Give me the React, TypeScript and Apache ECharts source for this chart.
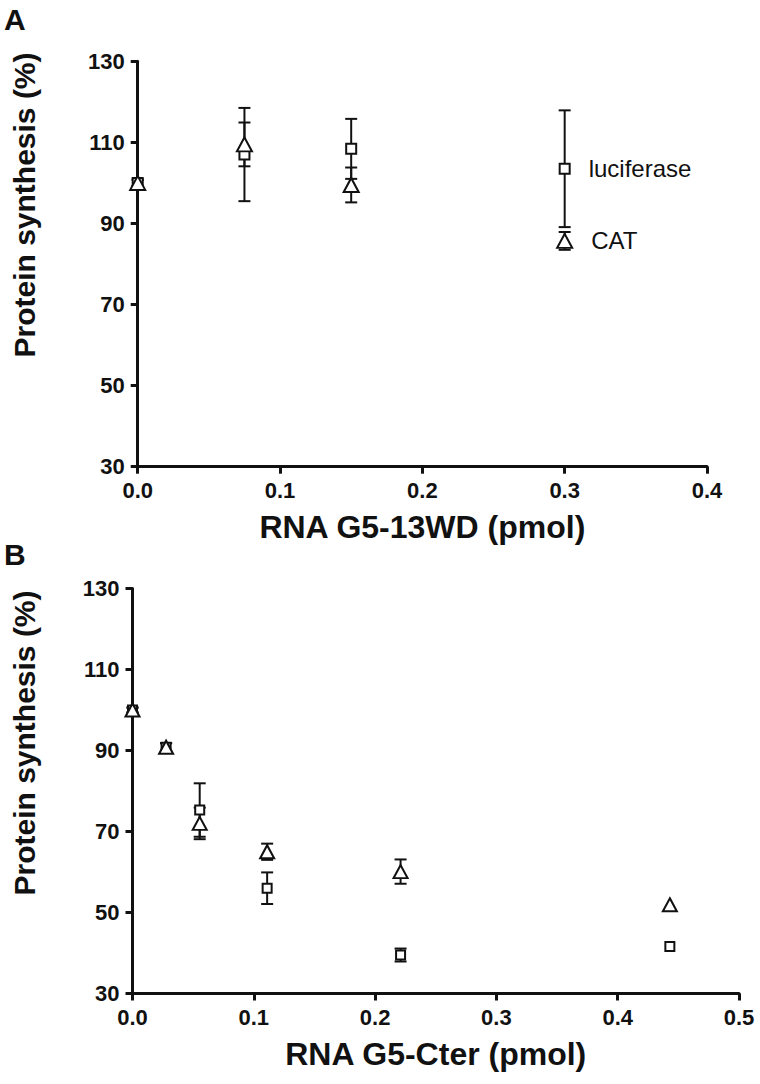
import React, { useEffect, useRef } from "react";
import * as echarts from "echarts";

// Panel A: RNA G5-13WD
const dosesA = [0, 0.075, 0.15, 0.3];
const lucA = [100, 107, 108.4, 103.5];
const lucAErr = [0.8, 11.5, 7.4, 14.4];
const catA = [100, 109.5, 99.5, 85.7];
const catAErr = [0.8, 5.4, 4.3, 2.2];

// Panel B: RNA G5-Cter
const dosesB = [0, 0.0277, 0.0554, 0.111, 0.221, 0.443];
const lucB = [100, 90.8, 75.3, 56, 39.5, 41.6];
const lucBErr = [0.6, 1, 6.6, 3.9, 1.6, 0];
const catB = [100, 90.8, 72, 65, 60.1, 51.9];
const catBErr = [0.6, 1, 3.9, 2, 3, 0];

const yTicks = { min: 30, max: 130, interval: 20 };
const xTicksA = { min: 0, max: 0.4, interval: 0.1 };
const xTicksB = { min: 0, max: 0.5, interval: 0.1 };

const seriesNames = ["luciferase", "CAT"];
const xTitleA = "RNA G5-13WD (pmol)";
const xTitleB = "RNA G5-Cter (pmol)";
const yTitle = "Protein synthesis (%)";

const FONT = '"Liberation Sans", Arial, Helvetica, sans-serif';
const INK = "#111";

function errData(x: number[], y: number[], e: number[]) {
  return x.map((xv, i) => [xv, y[i] - e[i], y[i] + e[i]]);
}
function pts(x: number[], y: number[]) {
  return x.map((xv, i) => [xv, y[i]]);
}

const renderErr = (_params: any, api: any) => {
  const x = api.value(0);
  const lo = api.value(1);
  const hi = api.value(2);
  if (hi - lo < 0.05) return null;
  const p1 = api.coord([x, lo]);
  const p2 = api.coord([x, hi]);
  const w = 6;
  const style = { stroke: INK, lineWidth: 2 };
  return {
    type: "group",
    children: [
      { type: "line", shape: { x1: p1[0], y1: p1[1], x2: p2[0], y2: p2[1] }, style },
      { type: "line", shape: { x1: p1[0] - w, y1: p1[1], x2: p1[0] + w, y2: p1[1] }, style },
      { type: "line", shape: { x1: p2[0] - w, y1: p2[1], x2: p2[0] + w, y2: p2[1] }, style },
    ],
  };
};

function xAxisCfg(gridIndex: number, ticks: any, name: string) {
  return {
    type: "value",
    gridIndex,
    ...ticks,
    name,
    nameLocation: "middle",
    nameGap: 44,
    nameTextStyle: { fontFamily: FONT, fontWeight: "bold", fontSize: 32, color: INK },
    axisLine: { show: true, onZero: false, lineStyle: { color: INK, width: 3 } },
    axisTick: { show: true, length: 7, lineStyle: { color: INK, width: 3 } },
    splitLine: { show: false },
    axisLabel: {
      show: true,
      margin: 13,
      color: INK,
      fontFamily: FONT,
      fontWeight: "bold",
      fontSize: 22,
      showMinLabel: true,
      showMaxLabel: true,
      formatter: (v: number) => v.toFixed(1),
    },
  };
}

function yAxisCfg(gridIndex: number) {
  return {
    type: "value",
    gridIndex,
    ...yTicks,
    axisLine: { show: true, onZero: false, lineStyle: { color: INK, width: 3 } },
    axisTick: { show: true, length: 7, lineStyle: { color: INK, width: 3 } },
    splitLine: { show: false },
    axisLabel: {
      show: true,
      margin: 13,
      color: INK,
      fontFamily: FONT,
      fontWeight: "bold",
      fontSize: 22,
      showMinLabel: true,
      showMaxLabel: true,
    },
  };
}

function markerSeries(
  axisIndex: number,
  name: string,
  x: number[],
  y: number[],
  symbol: string,
  size: number[],
  labelText: string | null
) {
  const last = x.length - 1;
  return {
    type: "scatter",
    name,
    xAxisIndex: axisIndex,
    yAxisIndex: axisIndex,
    data: pts(x, y),
    symbol,
    symbolSize: size,
    z: 5,
    itemStyle: { color: "#fff", borderColor: INK, borderWidth: 2, opacity: 1 },
    label: {
      show: labelText !== null,
      position: "right",
      distance: 18,
      fontFamily: FONT,
      fontSize: 24,
      color: INK,
      formatter: (p: any) => (labelText !== null && p.dataIndex === last ? labelText : ""),
    },
    emphasis: { disabled: true },
  };
}

function errSeries(axisIndex: number, x: number[], y: number[], e: number[]) {
  return {
    type: "custom",
    xAxisIndex: axisIndex,
    yAxisIndex: axisIndex,
    data: errData(x, y, e),
    renderItem: renderErr,
    encode: { x: 0, y: [1, 2] },
    z: 3,
    silent: true,
  };
}

export default function App() {
  const ref = useRef<HTMLDivElement>(null);
  useEffect(() => {
    document.body.style.margin = "0";
    if (!ref.current) return;
    const chart = echarts.init(ref.current, null, { renderer: "svg" });
    chart.setOption({
      animation: false,
      backgroundColor: "#fff",
      grid: [
        { left: 137.7, top: 61.3, width: 569.3, height: 405.4 },
        { left: 132.5, top: 588.5, width: 606.5, height: 405 },
      ],
      xAxis: [xAxisCfg(0, xTicksA, xTitleA), xAxisCfg(1, xTicksB, xTitleB)],
      yAxis: [yAxisCfg(0), yAxisCfg(1)],
      series: [
        errSeries(0, dosesA, lucA, lucAErr),
        errSeries(0, dosesA, catA, catAErr),
        markerSeries(0, seriesNames[0], dosesA, lucA, "rect", [10, 10], seriesNames[0]),
        markerSeries(0, seriesNames[1], dosesA, catA, "triangle", [15, 14], seriesNames[1]),
        errSeries(1, dosesB, lucB, lucBErr),
        errSeries(1, dosesB, catB, catBErr),
        markerSeries(1, seriesNames[0], dosesB, lucB, "rect", [9, 9], null),
        markerSeries(1, seriesNames[1], dosesB, catB, "triangle", [14, 13], null),
      ],
      graphic: [
        {
          type: "text",
          left: 4,
          top: 4,
          style: { text: "A", font: `bold 30px ${FONT}`, fill: INK },
        },
        {
          type: "text",
          left: 4,
          top: 539,
          style: { text: "B", font: `bold 30px ${FONT}`, fill: INK },
        },
        {
          type: "text",
          x: 24,
          y: 205,
          rotation: Math.PI / 2,
          style: {
            text: yTitle,
            font: `bold 30px ${FONT}`,
            fill: INK,
            align: "center",
            verticalAlign: "middle",
          },
        },
        {
          type: "text",
          x: 24,
          y: 743,
          rotation: Math.PI / 2,
          style: {
            text: yTitle,
            font: `bold 30px ${FONT}`,
            fill: INK,
            align: "center",
            verticalAlign: "middle",
          },
        },
      ],
    });
    return () => chart.dispose();
  }, []);
  return <div ref={ref} style={{ width: 760, height: 1084 }} />;
}
